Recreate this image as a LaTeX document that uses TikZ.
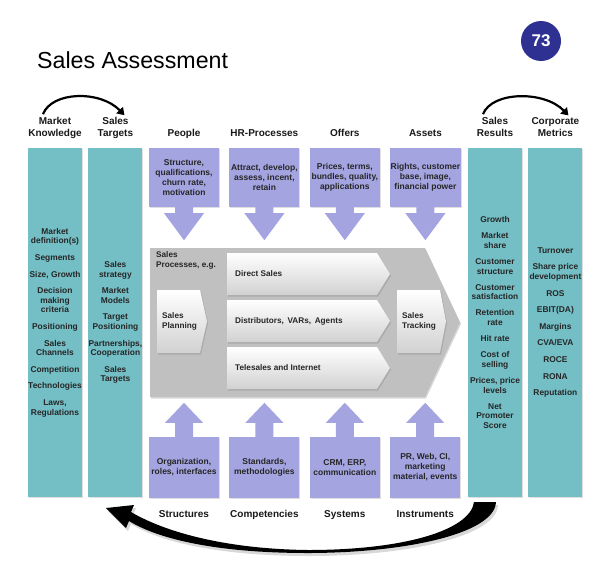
\documentclass[tikz,border=0pt]{standalone}
\usepackage{fontspec}
\setmainfont{Liberation Sans}
\usetikzlibrary{positioning,shapes,shadows,arrows.meta,calc}
\definecolor{tealcol}{RGB}{116,190,197}
\definecolor{lilac}{RGB}{164,164,225}
\definecolor{navy}{RGB}{46,49,146}
\definecolor{procgray}{RGB}{192,192,192}
\tikzstyle{column}=[rectangle, fill=tealcol, minimum width=54pt, minimum height=349pt, inner sep=0pt, align=center, text=black!85, font=\fontsize{8.4}{9.6}\selectfont\bfseries, drop shadow={opacity=0.25, shadow xshift=1pt, shadow yshift=-1pt}]
\tikzstyle{inbox}=[rectangle, fill=lilac, minimum width=70pt, inner sep=0.5pt, align=center, text=black!85, font=\fontsize{8.5}{10}\selectfont\bfseries, drop shadow={opacity=0.25, shadow xshift=1pt, shadow yshift=-1pt}]
\tikzstyle{head}=[inner sep=0pt, align=center, text depth=2.2pt, text=black!90, font=\fontsize{10}{12}\selectfont\bfseries]
\tikzstyle{chevron}=[top color=white, bottom color=black!18, drop shadow={opacity=0.35, shadow xshift=1pt, shadow yshift=-1.5pt}]
\tikzstyle{chevtext}=[inner sep=0pt, align=left, text=black!85, font=\fontsize{8.2}{10}\selectfont\bfseries]
\tikzstyle{turnarrow}=[line width=2.2pt, -{Triangle[length=7pt,width=9pt]}]

\begin{document}
\begin{tikzpicture}[x=1pt, y=-1pt]
\useasboundingbox[fill=white] (0,0) rectangle (604,573);

        \node (title) [anchor=base west, inner sep=0pt, font=\fontsize{23.2}{26}\selectfont] at (37,68) {Sales Assessment};
        \node (page_no) [circle, fill=navy, minimum size=40pt, inner sep=0pt, text=white, font=\fontsize{17}{17}\selectfont\bfseries] at (541,41) {73};

        % Side columns
        \node (market_col) [column] at (55,322.5) {Market\\definition(s)\\[7pt] Segments\\[7pt] Size, Growth\\[7pt] Decision\\making\\criteria\\[7pt] Positioning\\[7pt] Sales\\Channels\\[7pt] Competition\\[7pt] Technologies\\[7pt] Laws,\\Regulations};
        \node (targets_col) [column, right=6pt of market_col] {Sales\\strategy\\[7pt] Market\\Models\\[7pt] Target\\Positioning\\[7pt] Partnerships,\\Cooperation\\[7pt] Sales\\Targets};
        \node (results_col) [column] at (495,322.5) {Growth\\[6.5pt] Market\\share\\[6.5pt] Customer\\structure\\[6.5pt] Customer\\satisfaction\\[6.5pt] Retention\\rate\\[6.5pt] Hit rate\\[6.5pt] Cost of\\selling\\[6.5pt] Prices, price\\levels\\[6.5pt] Net\\Promoter\\Score};
        \node (metrics_col) [column, right=6pt of results_col] {Turnover\\[7pt] Share price\\development\\[7pt] ROS\\[7pt] EBIT(DA)\\[7pt] Margins\\[7pt] CVA/EVA\\[7pt] ROCE\\[7pt] RONA\\[7pt] Reputation};

        % Top boxes
        \node (people_box) [inbox, minimum height=59pt] at (184,177.5) {Structure,\\qualifications,\\churn rate,\\motivation};
        \node (hr_box) [inbox, minimum height=59pt, right=10pt of people_box] {Attract, develop,\\assess, incent,\\retain};
        \node (offers_box) [inbox, minimum height=59pt, right=10pt of hr_box] {Prices, terms,\\bundles, quality,\\applications};
        \node (assets_box) [inbox, minimum height=59pt, right=10pt of offers_box] {Rights, customer\\base, image,\\financial power};

        % Bottom boxes
        \node (org_box) [inbox, minimum height=61pt] at (184,467.5) {Organization,\\roles, interfaces};
        \node (std_box) [inbox, minimum height=61pt, right=10pt of org_box] {Standards,\\methodologies};
        \node (crm_box) [inbox, minimum height=61pt, right=10pt of std_box] {CRM, ERP,\\communication};
        \node (pr_box) [inbox, minimum height=61pt, right=10pt of crm_box] {PR, Web, CI,\\marketing\\material, events};

        % Headings
        \node (market_head) [head, above=8.8pt of market_col] {Market\\Knowledge};
        \node (targets_head) [head, above=8.8pt of targets_col] {Sales\\Targets};
        \node (people) [head, above=8.8pt of people_box] {People};
        \node (hr_processes) [head, above=8.8pt of hr_box] {HR-Processes};
        \node (offers) [head, above=8.8pt of offers_box] {Offers};
        \node (assets) [head, above=8.8pt of assets_box] {Assets};
        \node (results_head) [head, above=8.8pt of results_col] {Sales\\Results};
        \node (metrics_head) [head, above=8.8pt of metrics_col] {Corporate\\Metrics};

        \node (structures) [head, below=12pt of org_box] {Structures};
        \node (competencies) [head, below=12pt of std_box] {Competencies};
        \node (systems) [head, below=12pt of crm_box] {Systems};
        \node (instruments) [head, below=12pt of pr_box] {Instruments};

        % Sales processes
        \fill[procgray, drop shadow={opacity=0.3, shadow xshift=1pt, shadow yshift=-1.5pt}] (150,248) -- (425,248) -- (460,322.5) -- (425,397) -- (150,397) -- cycle;
        \node (processes) [chevtext, anchor=north west] at (156,251) {Sales\\Processes, e.g.};

        \path[chevron] (157,290) -- (200,290) -- (207,321.5) -- (200,353) -- (157,353) -- cycle;
        \node (planning) [chevtext, anchor=west] at (162,321.5) {Sales\\Planning};
        \path[chevron] (227,253) -- (377,253) -- (390,274) -- (377,295) -- (227,295) -- cycle;
        \node (direct) [chevtext, anchor=west] at (235,274) {Direct Sales};
        \path[chevron] (227,300) -- (377,300) -- (390,321) -- (377,342) -- (227,342) -- cycle;
        \node (distributors) [chevtext, anchor=west] at (235,321) {Distributors,\, VARs,\, Agents};
        \path[chevron] (227,347) -- (377,347) -- (390,368) -- (377,389) -- (227,389) -- cycle;
        \node (telesales) [chevtext, anchor=west] at (235,368) {Telesales and Internet};
        \path[chevron] (397,290) -- (440,290) -- (446,321.5) -- (440,353) -- (397,353) -- cycle;
        \node (tracking) [chevtext, anchor=west] at (402,321.5) {Sales\\Tracking};

        %Arrows
        \foreach \n in {people_box,hr_box,offers_box,assets_box}
            \fill[lilac] ($(\n.south)+(-9,-1)$) -- ++(0,7) -- ++(-11,0) -- ($(\n.south)+(0,33)$) -- ($(\n.south)+(20,6)$) -- ++(-11,0) -- ++(0,-7) -- cycle;
        \foreach \n in {org_box,std_box,crm_box,pr_box}
            \fill[lilac] ($(\n.north)+(-9,1)$) -- ++(0,-15) -- ++(-10,0) -- ($(\n.north)+(0,-34)$) -- ($(\n.north)+(19,-14)$) -- ++(-10,0) -- ++(0,15) -- cycle;

        \draw[turnarrow] ($(market_head.north)+(-12,-3)$) .. controls +(9,-23) and +(-24,-25) .. ($(targets_head.north)+(9,-2)$);
        \draw[turnarrow] ($(results_head.north)+(-12,-3)$) .. controls +(9,-23) and +(-24,-25) .. ($(metrics_head.north)+(13,-2)$);

        % Loop back
        \coordinate (loop_out) at ($(results_col.south)+(1,5)$);
        \coordinate (loop_in) at ($(results_col.south)+(-21,5)$);
        \fill[black, drop shadow={opacity=0.3, shadow xshift=2pt, shadow yshift=-3pt}] (loop_out) .. controls (494,535) and (400,553) .. (308,553) .. controls (220,553) and (160,540) .. (129,521) -- (126,528) -- (106,508) -- (134,505) -- (131,512) .. controls (165,532) and (225,549) .. (308,550) .. controls (405,550) and (470,530) .. (loop_in) -- cycle;

\end{tikzpicture}
\end{document}
